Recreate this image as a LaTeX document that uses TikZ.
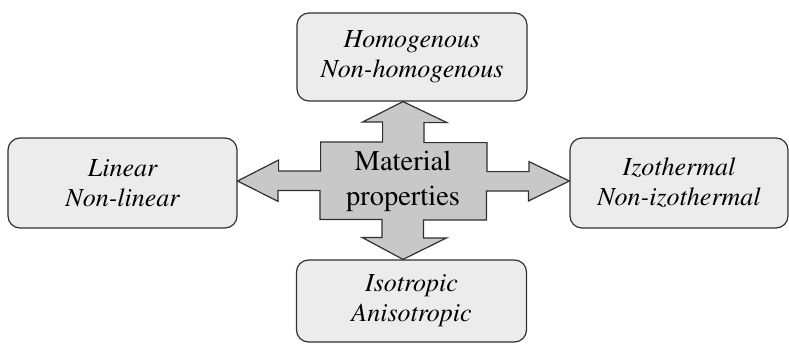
\documentclass[tikz,border=0pt]{standalone}
\usepackage[T1]{fontenc}
\usepackage{times}
\usetikzlibrary{calc}
\usepackage{xcolor}
\definecolor{boxgray}{HTML}{ECECEC}
\definecolor{crossgray}{HTML}{C8C8C8}
\definecolor{edgegray}{HTML}{303030}

\begin{document}
\begin{tikzpicture}[x=1pt,y=-1pt,
  box/.style={draw=edgegray,line width=1.2pt,fill=boxgray,rounded corners=12pt,
    minimum width=230pt,minimum height=88pt,align=center,inner sep=0pt,
    font=\fontsize{26}{30}\selectfont\itshape},
  core/.style={minimum width=167pt,minimum height=78pt,align=center,inner sep=0pt,
    font=\fontsize{28.5}{35}\selectfont},
  cross/.style={draw=edgegray,line width=1.2pt,fill=crossgray,line join=miter}]
\useasboundingbox (0,0) rectangle (789,343);

\node[box] (hom) at (412,57) {Homogenous\\Non-homogenous};
\node[box,minimum height=82pt] (iso) at (411.5,301) {Isotropic\\Anisotropic};
\node[box,minimum width=229pt,minimum height=90pt] (lin) at (122.5,183) {Linear\\Non-linear};
\node[box,minimum width=218pt,minimum height=90pt] (izo) at (679,183) {Izothermal\\Non-izothermal};

\coordinate (mc) at (403,181);
\coordinate (tn) at (mc |- hom.south);
\coordinate (ts) at (mc |- iso.north);
\coordinate (tw) at (lin.east |- mc);
\coordinate (te) at (izo.west |- mc);

% the cross with its four arrows
\draw[cross] (tn) -- ++(44,21) -- ++(-23,0) -- ++(0,20) -- ++(63,0)
  -- ++(0,29) -- ++(42,0) -- ++(0,-10) -- (te) -- ++(-41,20) -- ++(0,-10)
  -- ++(-42,0) -- ++(0,29) -- ++(-63,0) -- ++(0,18) -- ++(23,0)
  -- (ts) -- ++(-41,-22) -- ++(20,0) -- ++(0,-18) -- ++(-62,0)
  -- ++(0,-29) -- ++(-42,0) -- ++(0,11) -- (tw) -- ++(41,-21) -- ++(0,11)
  -- ++(42,0) -- ++(0,-29) -- ++(62,0) -- ++(0,-20) -- ++(-20,0) -- cycle;

\node[core] (mat) at (mc) {Material\\properties};
\end{tikzpicture}
\end{document}
